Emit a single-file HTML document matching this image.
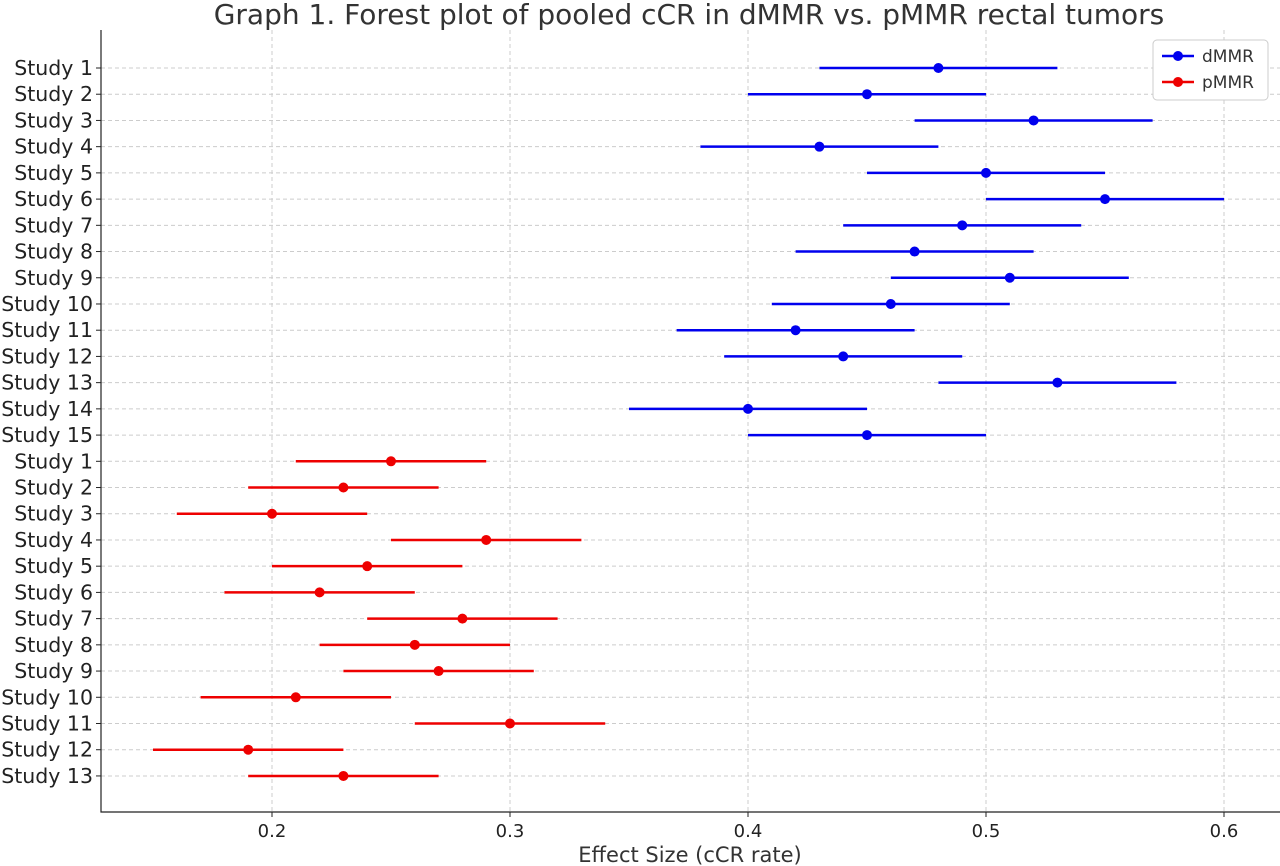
<!DOCTYPE html>
<html><head><meta charset="utf-8"><style>
body{margin:0;background:#fff;}
svg{display:block;font-family:"DejaVu Sans","Liberation Sans",sans-serif;}
</style></head><body>
<svg id="chart" width="1280" height="866"></svg>
<script>
const dLabels=["Study 1","Study 2","Study 3","Study 4","Study 5","Study 6","Study 7","Study 8","Study 9","Study 10","Study 11","Study 12","Study 13","Study 14","Study 15"];
const dEst=[0.48,0.45,0.52,0.43,0.50,0.55,0.49,0.47,0.51,0.46,0.42,0.44,0.53,0.40,0.45];
const dLow=[0.43,0.40,0.47,0.38,0.45,0.50,0.44,0.42,0.46,0.41,0.37,0.39,0.48,0.35,0.40];
const dHigh=[0.53,0.50,0.57,0.48,0.55,0.60,0.54,0.52,0.56,0.51,0.47,0.49,0.58,0.45,0.50];
const pLabels=["Study 1","Study 2","Study 3","Study 4","Study 5","Study 6","Study 7","Study 8","Study 9","Study 10","Study 11","Study 12","Study 13"];
const pEst=[0.25,0.23,0.20,0.29,0.24,0.22,0.28,0.26,0.27,0.21,0.30,0.19,0.23];
const pLow=[0.21,0.19,0.16,0.25,0.20,0.18,0.24,0.22,0.23,0.17,0.26,0.15,0.19];
const pHigh=[0.29,0.27,0.24,0.33,0.28,0.26,0.32,0.30,0.31,0.25,0.34,0.23,0.27];
const xTicks=[0.2,0.3,0.4,0.5,0.6];

const svg=document.getElementById('chart');
const NS='http://www.w3.org/2000/svg';
const X=v=>272+(v-0.2)*2380;
const Y=i=>68+i*26.22;
function mk(tag,attrs,parent){const e=document.createElementNS(NS,tag);for(const k in attrs)e.setAttribute(k,attrs[k]);(parent||svg).appendChild(e);return e;}

let t=mk('text',{x:689,y:24,'text-anchor':'middle','font-size':28,fill:'#333'});
t.textContent='Graph 1. Forest plot of pooled cCR in dMMR vs. pMMR rectal tumors';



const total=dLabels.length+pLabels.length;
const allLabels=dLabels.concat(pLabels);
for(let i=0;i<total;i++){
  let g=mk('line',{x1:101,x2:1280,y1:Y(i),y2:Y(i),stroke:'#ccc','stroke-dasharray':'4,3','stroke-width':1});
  
  
  let l=mk('text',{x:93,y:Y(i)+7,'text-anchor':'end','font-size':20.5,fill:'#222'});
  l.textContent=allLabels[i];
  
  
  let tk=mk('line',{x1:96,x2:101,y1:Y(i),y2:Y(i),stroke:'#222'});
  
  
}
xTicks.forEach(v=>{
  let g=mk('line',{x1:X(v),x2:X(v),y1:30,y2:812,stroke:'#ccc','stroke-dasharray':'4,3'});
  
  
  let tk=mk('line',{x1:X(v),x2:X(v),y1:812,y2:817,stroke:'#222'});
  
  
  let l=mk('text',{x:X(v),y:837,'text-anchor':'middle','font-size':18,fill:'#222'});
  l.textContent=String(v);
  
  
});
let ax=mk('path',{d:'M101,30 V812 H1280',fill:'none',stroke:'#222','stroke-width':1.2});


let xt=mk('text',{x:690,y:862,'text-anchor':'middle','font-size':21,fill:'#333'});
xt.textContent='Effect Size (cCR rate)';



function series(est,low,high,off,color,name){
  est.forEach((v,i)=>{
    let ln=mk('line',{x1:X(low[i]),x2:X(high[i]),y1:Y(i+off),y2:Y(i+off),stroke:color,'stroke-width':2.5});
    
    
    let c=mk('circle',{cx:X(v),cy:Y(i+off),r:5,fill:color});
    
    
  });
}
series(dEst,dLow,dHigh,0,'#0000ee','dmmr');
series(pEst,pLow,pHigh,dLabels.length,'#ee0000','pmmr');

let lg=mk('g',{});


mk('rect',{x:1153,y:40,width:115,height:60,rx:4,fill:'#fff',stroke:'#ccc'},lg);
[['dMMR','#0000ee',56],['pMMR','#ee0000',82]].forEach(([n,c,y])=>{
  let e=mk('g',{},lg);
  
  
  mk('line',{x1:1162,x2:1194,y1:y,y2:y,stroke:c,'stroke-width':2.5},e);
  mk('circle',{cx:1178,cy:y,r:5,fill:c},e);
  let tx=mk('text',{x:1202,y:y+6,'font-size':17,fill:'#333'},e);
  tx.textContent=n;
});
</script>
</body></html>
